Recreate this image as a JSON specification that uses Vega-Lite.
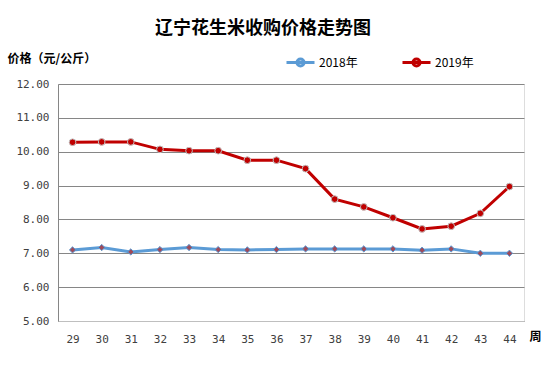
{
  "$schema": "https://vega.github.io/schema/vega-lite/v6.json",
  "width": 466,
  "height": 237,
  "autosize": {"type": "none"},
  "padding": {"left": 58, "top": 84, "right": 35, "bottom": 50},
  "background": "white",
  "title": {
    "text": "辽宁花生米收购价格走势图",
    "font": "Noto Sans CJK SC",
    "fontSize": 18,
    "fontWeight": "bold",
    "color": "#000000",
    "anchor": "middle",
    "frame": "group",
    "dx": -28,
    "offset": 9
  },
  "data": {
    "values": [
      {"week": 29, "year": "2018年", "price": 7.10},
      {"week": 30, "year": "2018年", "price": 7.17},
      {"week": 31, "year": "2018年", "price": 7.04},
      {"week": 32, "year": "2018年", "price": 7.11},
      {"week": 33, "year": "2018年", "price": 7.17},
      {"week": 34, "year": "2018年", "price": 7.11},
      {"week": 35, "year": "2018年", "price": 7.10},
      {"week": 36, "year": "2018年", "price": 7.11},
      {"week": 37, "year": "2018年", "price": 7.13},
      {"week": 38, "year": "2018年", "price": 7.13},
      {"week": 39, "year": "2018年", "price": 7.13},
      {"week": 40, "year": "2018年", "price": 7.13},
      {"week": 41, "year": "2018年", "price": 7.09},
      {"week": 42, "year": "2018年", "price": 7.13},
      {"week": 43, "year": "2018年", "price": 7.00},
      {"week": 44, "year": "2018年", "price": 7.00},
      {"week": 29, "year": "2019年", "price": 10.28},
      {"week": 30, "year": "2019年", "price": 10.29},
      {"week": 31, "year": "2019年", "price": 10.29},
      {"week": 32, "year": "2019年", "price": 10.07},
      {"week": 33, "year": "2019年", "price": 10.03},
      {"week": 34, "year": "2019年", "price": 10.03},
      {"week": 35, "year": "2019年", "price": 9.75},
      {"week": 36, "year": "2019年", "price": 9.75},
      {"week": 37, "year": "2019年", "price": 9.50},
      {"week": 38, "year": "2019年", "price": 8.60},
      {"week": 39, "year": "2019年", "price": 8.37},
      {"week": 40, "year": "2019年", "price": 8.05},
      {"week": 41, "year": "2019年", "price": 7.72},
      {"week": 42, "year": "2019年", "price": 7.80},
      {"week": 43, "year": "2019年", "price": 8.18},
      {"week": 44, "year": "2019年", "price": 8.97}
    ]
  },
  "encoding": {
    "x": {
      "field": "week",
      "type": "ordinal",
      "scale": {"type": "point", "padding": 0.5},
      "axis": {
        "title": "周",
        "titleX": 477,
        "titleY": 15,
        "titleAlign": "center",
        "titleBaseline": "middle",
        "titleFont": "Noto Sans CJK SC",
        "titleFontSize": 12,
        "titleFontWeight": "bold",
        "titleColor": "#000000",
        "labelAngle": 0,
        "labelPadding": 12,
        "labelFont": "DejaVu Sans Mono",
        "labelFontSize": 11,
        "labelColor": "#404040",
        "ticks": false,
        "grid": false,
        "domainColor": "#BFBFBF"
      }
    },
    "y": {
      "field": "price",
      "type": "quantitative",
      "scale": {"domain": [5, 12], "nice": false, "zero": false},
      "axis": {
        "values": [5, 6, 7, 8, 9, 10, 11, 12],
        "format": ".2f",
        "title": "价格（元/公斤）",
        "titleAngle": 0,
        "titleX": -51,
        "titleY": -26,
        "titleAlign": "left",
        "titleBaseline": "middle",
        "titleFont": "Noto Sans CJK SC",
        "titleFontSize": 12,
        "titleFontWeight": "bold",
        "titleColor": "#000000",
        "labelPadding": 9,
        "labelFont": "DejaVu Sans Mono",
        "labelFontSize": 11,
        "labelColor": "#404040",
        "ticks": false,
        "grid": true,
        "gridColor": "#868686",
        "domainColor": "#868686"
      }
    }
  },
  "layer": [
    {
      "mark": {"type": "line", "strokeWidth": 3},
      "encoding": {
        "color": {
          "field": "year",
          "type": "nominal",
          "scale": {"domain": ["2018年", "2019年"], "range": ["#5B9BD5", "#C00000"]},
          "legend": {
            "title": null,
            "orient": "none",
            "direction": "horizontal",
            "legendX": 227,
            "legendY": -37,
            "symbolType": "M-1,0L1,0M-0.25,0A0.25,0.25,0,1,1,0.25,0A0.25,0.25,0,1,1,-0.25,0Z",
            "symbolSize": 784,
            "symbolStrokeWidth": 3,
            "labelFont": "Noto Sans CJK SC",
            "labelFontSize": 12,
            "labelColor": "#000000",
            "labelOffset": 3,
            "columnPadding": 38
          }
        }
      }
    },
    {
      "transform": [{"filter": "datum.year === '2018年'"}],
      "mark": {"type": "point", "shape": "diamond", "filled": true, "fill": "#9E4A5A", "stroke": "#5B9BD5", "strokeWidth": 1, "size": 40, "opacity": 1}
    },
    {
      "transform": [{"filter": "datum.year === '2019年'"}],
      "mark": {"type": "point", "shape": "circle", "filled": true, "fill": "#C00000", "stroke": "#BFBFBF", "strokeWidth": 1, "size": 45, "opacity": 1}
    }
  ]
}
